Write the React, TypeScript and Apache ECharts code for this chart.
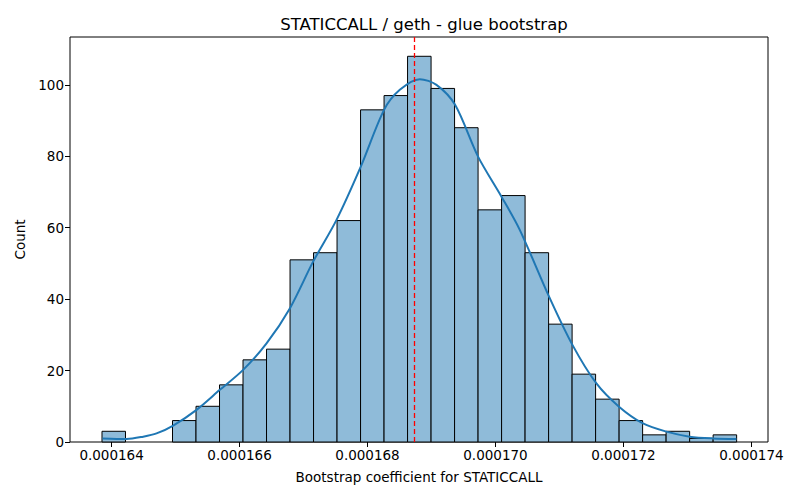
import { useEffect, useRef } from 'react';
import * as echarts from 'echarts';
import type { EChartsOption } from 'echarts';

// x values are in units of 1e-6
const binStart = 163.85;
const binWidth = 0.3674;
const binCounts = [3, 0, 0, 6, 10, 16, 23, 26, 51, 53, 62, 93, 97, 108, 99, 88, 65, 69, 53, 33, 19, 12, 6, 2, 3, 1, 2];

// kde curve
const kdeX = [
  163.859, 164.234, 164.494, 164.703, 164.963, 165.328, 165.692, 166.056, 166.422, 166.786,
  167.15, 167.516, 167.895, 168.259, 168.505, 168.817, 169.078, 169.369, 169.728, 170.094,
  170.38, 170.838, 171.203, 171.578, 171.931, 172.306, 172.672, 173.036, 173.4, 173.766,
];
const kdeY = [
  1.0, 0.84, 1.5, 2.4, 4.6, 9.0, 14.6, 20.2, 27.6, 37.4,
  50.5, 62.2, 77.1, 93, 98.6, 101.6, 100, 94.4, 79.9, 68.7,
  59.4, 40.7, 27.2, 16.4, 9.9, 5.2, 2.9, 1.5, 1.0, 0.84,
];
const meanValue = 168.73;
const xTicks = [164, 166, 168, 170, 172, 174];

const FONT = 'DejaVu Sans';

export default function App() {
  const chartRef = useRef<HTMLDivElement>(null);

  useEffect(() => {
    if (!chartRef.current) return;
    const chart = echarts.init(chartRef.current, null, { renderer: 'svg' });

    const bins = binCounts.map((c, i) => [binStart + i * binWidth, binStart + (i + 1) * binWidth, c]);
    const kde = kdeX.map((x, i) => [x, kdeY[i]]);

    const option: EChartsOption = {
      animation: false,
      backgroundColor: '#fff',
      textStyle: { fontFamily: FONT },
      title: {
        text: 'STATICCALL / geth - glue bootstrap',
        left: 419,
        top: 11,
        textAlign: 'center',
        textStyle: { fontFamily: FONT, fontSize: 16.5, fontWeight: 'normal', color: '#000' },
      },
      grid: {
        left: 70,
        right: 32,
        top: 37,
        bottom: 58,
        show: true,
        borderColor: '#000',
        borderWidth: 1,
      },
      xAxis: {
        type: 'value',
        min: 163.35,
        max: 174.26,
        name: 'Bootstrap coefficient for STATICCALL',
        nameLocation: 'middle',
        nameGap: 28,
        nameTextStyle: { fontFamily: FONT, fontSize: 13.5, color: '#000' },
        axisLine: { show: false },
        splitLine: { show: false },
        axisTick: {
          show: true,
          inside: false,
          length: 5,
          lineStyle: { color: '#000' },
          customValues: xTicks,
        },
        axisLabel: {
          customValues: xTicks,
          margin: 6,
          fontFamily: FONT,
          fontSize: 13.5,
          color: '#000',
          formatter: (v: number) => (v / 1e6).toFixed(6),
        },
      },
      yAxis: {
        type: 'value',
        min: 0,
        max: 113.4,
        interval: 20,
        name: 'Count',
        nameLocation: 'middle',
        nameGap: 43,
        nameTextStyle: { fontFamily: FONT, fontSize: 13.5, color: '#000' },
        axisLine: { show: false },
        splitLine: { show: false },
        axisTick: { show: true, length: 5, lineStyle: { color: '#000' } },
        axisLabel: {
          margin: 6,
          fontFamily: FONT,
          fontSize: 13.5,
          color: '#000',
          showMaxLabel: false,
        },
      },
      series: [
        {
          type: 'custom',
          data: bins,
          encode: { x: [0, 1], y: 2 },
          renderItem: (params: any, api: any) => {
            if (api.value(2) === 0) return null;
            const p0 = api.coord([api.value(0), 0]);
            const p1 = api.coord([api.value(1), api.value(2)]);
            return {
              type: 'rect',
              shape: { x: p0[0], y: p1[1], width: p1[0] - p0[0], height: p0[1] - p1[1] },
              style: { fill: '#8fbbd9', stroke: '#000', lineWidth: 1 },
            };
          },
          z: 2,
        },
        {
          type: 'line',
          data: kde,
          smooth: 0.3,
          showSymbol: false,
          lineStyle: { color: '#1f77b4', width: 2 },
          z: 3,
          markLine: {
            silent: true,
            symbol: ['none', 'none'],
            label: { show: false },
            lineStyle: { color: 'red', type: [5, 3], width: 1.3 },
            data: [{ xAxis: meanValue }],
          },
        },
      ],
    };

    chart.setOption(option);
    return () => chart.dispose();
  }, []);

  return (
    <div
      ref={chartRef}
      style={{ position: 'fixed', left: 0, top: 0, width: 800, height: 500 }}
    />
  );
}
